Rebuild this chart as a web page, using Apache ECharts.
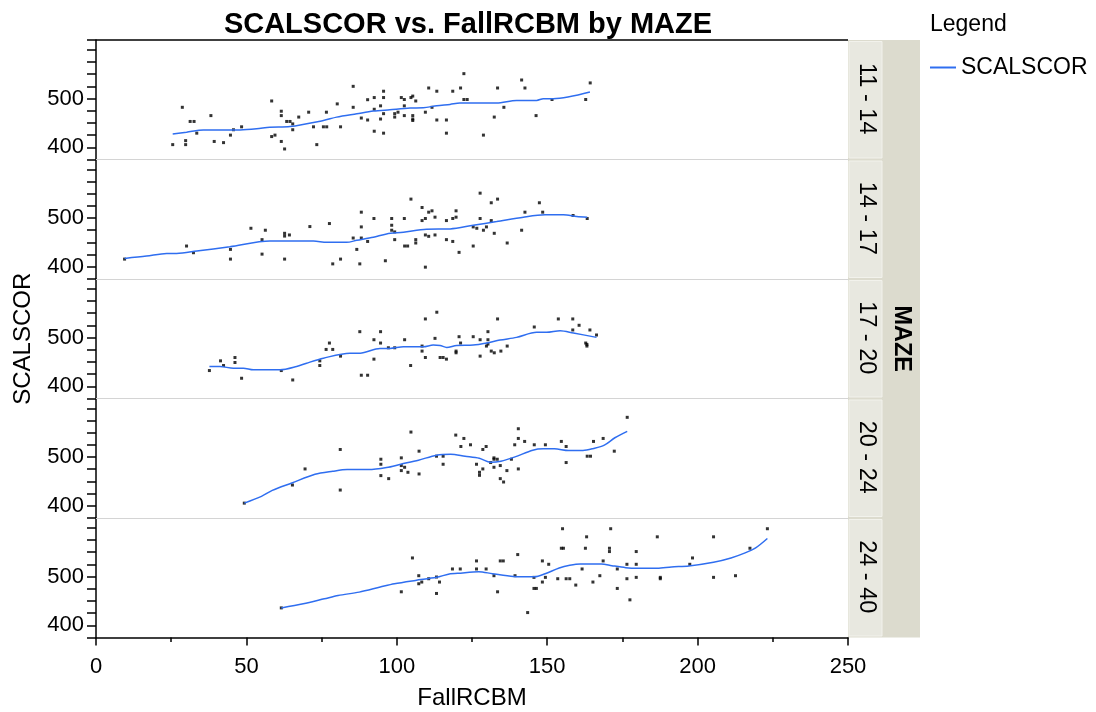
<!DOCTYPE html>
<html>
<head>
<meta charset="utf-8">
<title>SCALSCOR vs. FallRCBM by MAZE</title>
<script src="https://cdn.jsdelivr.net/npm/echarts@6/dist/echarts.min.js"></script>
<style>
  html, body { margin: 0; padding: 0; background: #fff; }
  #myChart { width: 1096px; height: 712px; }
</style>
</head>
<body>
<div id="myChart"></div>
<script>
// MAZE groups, one panel each (top to bottom)
var mazeGroups = ["11 - 14", "14 - 17", "17 - 20", "20 - 24", "24 - 40"];
var yLabels = [400, 500];

// raw points [FallRCBM, SCALSCOR]
var points1 = [[25.5,405.5],[28.7,482],[29.8,413.7],[29.8,405.5],[31.3,453],[32.6,453],[33.5,429],[38.2,465],[39.3,412],[42.4,409.6],[44.7,425],[45.7,436],[48.4,442],[58.4,495],[58.4,422],[59.5,425],[61.6,474],[61.6,465],[61.6,412],[62.7,396.6],[63.4,453],[64.5,453],[65.4,448],[65.4,436],[67.4,462],[70.7,472],[72.3,442],[73.4,405.5],[75.6,442],[76.7,442],[76.6,472],[80.2,489],[81.3,442],[85.5,525],[85.5,482],[88.2,460],[90.3,497.6],[90.3,456],[92.5,502],[92.5,478],[92.5,433],[94.6,485],[94.6,458],[95.6,515],[95.6,502],[95.6,469],[95.6,429],[99.3,469],[99.3,462],[100.4,472],[101.5,502],[102.5,498],[102.5,485],[102.5,465],[104.7,502],[105.3,505],[105.3,465],[105.3,458],[105.3,455],[106.3,495],[109.5,472],[110.6,521.6],[111.7,482],[113.3,515],[113.3,456],[116.5,456],[116.5,429],[118.6,515],[121.2,521.6],[122.3,551],[122.3,498],[123.4,498],[128.8,425],[132.4,462],[133.5,521.6],[135.6,482],[141.5,538],[142.6,521.6],[146.3,465],[151.6,498],[162.8,498],[164.3,532]];
var points2 = [[9.5,415.8],[30.1,442.6],[32.4,428.9],[44.7,435.7],[44.7,415.8],[51.5,479],[55.2,455.7],[55.2,426],[56.3,475],[62.7,468.7],[62.7,463],[62.7,415.8],[64.3,465.3],[71.1,482.5],[77.6,488.7],[78.7,406],[81.3,415.8],[85.5,459],[86.7,435.7],[87.7,406],[88.2,512],[88.2,481.8],[88.2,459],[90.3,452],[92.4,499],[96.2,412.4],[98.3,499],[98.3,485.2],[98.3,475],[99.3,471.5],[99.3,455.7],[102.5,499],[102.6,442.6],[103.6,442.6],[104.7,538.8],[106.3,455.7],[106.3,448.8],[108.4,521.6],[108.4,494.8],[109.5,499],[109.5,465.3],[109.5,399.3],[110.6,512],[110.6,462.5],[111.7,514.8],[112.7,501.8],[112.7,465.3],[116.5,494.8],[116.5,455.7],[118.6,499],[118.6,452],[119.7,514.8],[119.7,501.8],[120.7,429.6],[125.4,442.6],[125.4,481.8],[126.6,479],[127.7,551],[127.7,499],[128.8,475],[129.8,481.8],[131.4,531.3],[131.4,494.8],[132.4,468.7],[133.5,538.8],[136.7,448.8],[141.5,475],[142.6,512],[147.4,531.3],[148.5,512],[158.6,505.2],[163.3,499]];
var points3 = [[37.7,432.3],[41.4,452.2],[42.4,442.6],[46.2,459],[46.2,448.8],[48.4,416.5],[61.6,432.3],[65.4,413],[74.4,452.2],[74.4,442.6],[76.5,475.6],[78.7,475.6],[77.6,488.7],[81.3,461.9],[87.7,512],[88.2,422.7],[90.3,422.7],[92.4,495.5],[92.4,455.7],[94.6,512],[94.6,488.7],[97.2,479],[99.3,479],[102.6,495.5],[104.6,442.6],[108.4,482.5],[108.4,472.2],[109.5,538.1],[109.5,459.1],[112.7,498.3],[113.3,551.9],[114.4,459.1],[115.4,459.1],[116.5,455.7],[119.7,472.2],[119.7,468.7],[120.7,501.7],[121.2,488.7],[125.4,501.7],[127.7,495.5],[127.7,461.9],[129.8,482.5],[130.3,512],[130.3,495.5],[130.3,486.6],[131.4,472.2],[132.4,468.7],[133.5,538.1],[134.6,472.2],[136.7,482.5],[145.7,521.6],[153.7,538.1],[158.5,538.1],[158.5,515.5],[160.6,525.1],[162.8,488.7],[163.2,482.5],[163.2,485.9],[164.2,515.5],[166.4,505.2]];
var points4 = [[49.3,405.5],[65.3,442.6],[69.5,475.6],[81.2,515.5],[81.2,432.3],[94.7,495.5],[94.7,485.2],[94.7,461.9],[97.3,455.7],[101.5,498.3],[101.5,482.5],[102.6,479],[101.5,472.2],[103.7,468.7],[104.7,551.2],[107.4,512],[107.4,465.3],[113.2,501.7],[115.4,501.7],[115.4,485.2],[119.6,545],[121.3,521.6],[122.3,538.1],[124.5,525.1],[126.5,485.2],[127.5,468.7],[127.5,462.5],[128.6,515.5],[128.6,475.6],[129.7,521.6],[131.2,488.7],[132.3,498.3],[132.3,495.5],[132.3,479],[133.4,495.5],[134.4,482.5],[134.4,455.7],[135.5,448.8],[136.6,472.2],[138.1,495.5],[139.2,525.1],[140.4,558],[140.4,538.1],[140.4,475.6],[142.5,532],[145.7,525.1],[149.4,525.1],[154.7,532],[156.3,521.6],[156.3,488.7],[163.3,501.7],[164.4,501.7],[165.4,532],[168.6,538.1],[172.3,512],[176.6,581.4]];
var points5 = [[61.6,435.7],[101.5,468.7],[105.2,538.1],[107.3,501.7],[107.3,485.2],[108.3,488.7],[110.6,495.5],[113.2,499],[113.2,465.3],[114.2,488.7],[118.5,515.5],[121.1,515.5],[126.5,532],[126.5,515.5],[129.7,515.5],[132.3,501.7],[133.5,468.7],[134.4,532],[135.4,532],[139.3,501.7],[140.2,545],[143.5,426.1],[145.6,498.3],[145.6,475.6],[146.4,475.6],[148.4,532],[148.4,488.7],[149.4,498.3],[150.5,525.1],[153.5,495.5],[155.1,598],[154.7,558],[155.4,558],[156.3,495.5],[157.5,495.5],[159.5,482.5],[161.6,515.5],[163.1,581.4],[162.7,558],[165.2,488.7],[167.5,501.7],[168.6,532],[170.7,558],[170.7,551.2],[171.1,598],[173.3,515.5],[173.3,475.6],[176.5,525.1],[176.5,495.5],[177.5,452.2],[179.6,551.2],[179.6,525.1],[179.6,498.3],[186.6,581.4],[187.6,498.3],[187.6,495.5],[197.4,525.1],[198.3,538.1],[205.3,581.4],[205.3,498.3],[212.6,501.7],[217.4,558],[223.2,598]];

// smoother curve per panel (SCALSCOR)
var fit1 = [[25.5,427.5],[30.1,431],[35.7,435.7],[47.9,435.7],[53.4,437.8],[57.8,441.2],[64.5,442.6],[75.6,455],[80,461.9],[86.7,468.7],[92.2,474.2],[97.7,477],[104.4,480.4],[108.8,481],[113.3,485.2],[117.7,488],[121,490.7],[133.2,490.7],[139.8,496.2],[146.5,496.2],[148.7,499.7],[152,499.7],[164.2,513.4]];
var fit2 = [[9.5,417.2],[16.8,422],[23.5,427.5],[26.8,427.5],[33.5,432.3],[44.5,441.2],[57.8,452.9],[72.3,452.9],[76.7,450.2],[83.3,450.2],[86.7,454.3],[92.2,460.5],[96.6,467.4],[102.2,470.8],[109.9,477],[117.7,477.7],[125.4,485.2],[133.2,492.8],[142.1,501.8],[149.3,506.5],[155.4,506.5],[159.8,503],[163.3,501.7]];
var fit3 = [[37.7,440.5],[41.2,440.5],[45.7,437.1],[49,437.1],[52.3,433.7],[61.2,433.7],[66.7,440.5],[70,447.4],[75.6,457.7],[84.4,468],[87.8,468],[94.4,477.7],[97.7,477.7],[102.2,481.1],[108.8,481.1],[112.1,484.5],[114.4,483.8],[116.6,479.7],[119.9,483.8],[125.4,484.5],[129.9,488.7],[134.3,494.8],[139.8,500.3],[146.5,510.7],[149.8,510.7],[154.3,514.1],[158.7,509.3],[166.4,500.3]];
var fit4 = [[49.3,405.5],[55,419.2],[58.6,431.6],[65.1,446.7],[72.8,464.6],[78.7,470.8],[83.5,474.2],[90.6,474.2],[96.6,478.4],[101.3,485.2],[107.2,493.5],[113.2,503.8],[117.9,505.8],[122.7,501.7],[127.4,497.6],[131.2,489.3],[134.6,491.4],[139.3,500.3],[145.2,514.1],[148.8,516.8],[152.4,516.8],[157.1,513.4],[161.9,513.4],[165.4,517.5],[169,524.4],[172.5,539.5],[176.6,552.6]];
var fit5 = [[61.6,435.7],[68.9,444],[75.9,454.3],[80.5,461.2],[87.5,468],[94.5,478.4],[99.2,485.2],[106.2,492.1],[113.2,498.3],[117.8,505.8],[120.2,506.5],[127.2,510],[131.8,505.8],[138.8,500.3],[145.8,499.7],[149.3,505.8],[154,517.5],[157.5,523],[161,525.8],[168,525.8],[171.5,522.3],[176.1,518.2],[179.6,516.8],[186.6,516.8],[191.3,519.6],[197.1,521.6],[205.3,529.2],[211.1,538.1],[215.8,548.5],[219.3,558.8],[223.2,578]];

var allPoints = [points1, points2, points3, points4, points5];
var allFits = [fit1, fit2, fit3, fit4, fit5];

var FONT = "'Liberation Sans', Arial, sans-serif";
var plotLeft = 96, plotRight = 848, plotTop = 40, panelH = 119.5;

let myChart = echarts.init(document.getElementById("myChart"));

let grids = [], xAxes = [], yAxes = [], series = [], graphics = [];

// outer MAZE strip
graphics.push({
  type: "rect",
  shape: { x: 848, y: plotTop, width: 72, height: panelH * 5 },
  style: { fill: "#dcdbce" }
});
graphics.push({
  type: "text", x: 901, y: plotTop + panelH * 2.5, rotation: -Math.PI / 2,
  style: { text: "MAZE", font: "bold 23.5px " + FONT, fill: "#000", align: "center", verticalAlign: "middle" }
});
// dark top border of plot
graphics.push({
  type: "line",
  shape: { x1: plotLeft, y1: plotTop, x2: plotRight, y2: plotTop },
  style: { stroke: "#000", lineWidth: 1.5 }
});

for (let i = 0; i < 5; i++) {
  let top = plotTop + i * panelH;
  let last = i === 4;
  grids.push({ left: plotLeft, top: top, width: plotRight - plotLeft, height: panelH });

  xAxes.push({
    gridIndex: i, type: "value", min: 0, max: 250, interval: 50,
    axisLine: { show: true, onZero: false, lineStyle: { color: last ? "#000" : "#d4d4d4", width: last ? 1.5 : 1 } },
    axisTick: { show: last, length: 8, lineStyle: { color: "#000", width: 1.5 } },
    minorTick: { show: last, splitNumber: 2, length: 4.5, lineStyle: { color: "#000", width: 1.5 } },
    axisLabel: { show: last, fontSize: 22, fontFamily: FONT, color: "#000", margin: 18 },
    splitLine: { show: false },
    name: last ? "FallRCBM" : "",
    nameLocation: "middle", nameGap: 49,
    nameTextStyle: { fontSize: 24, fontFamily: FONT, color: "#000" }
  });

  yAxes.push({
    gridIndex: i, type: "value", min: 375, max: 620, interval: 25,
    axisLine: { show: true, onZero: false, lineStyle: { color: "#000", width: 1.5 } },
    axisTick: { show: true, length: 9, lineStyle: { color: "#000", width: 1.5 } },
    axisLabel: {
      fontSize: 22, fontFamily: FONT, color: "#000", margin: 12,
      formatter: function (v) { return yLabels.indexOf(v) >= 0 ? String(v) : ""; }
    },
    splitLine: { show: false },
    name: i === 2 ? "SCALSCOR" : "",
    nameLocation: "middle", nameGap: 61,
    nameTextStyle: { fontSize: 24, fontFamily: FONT, color: "#000" }
  });

  series.push({
    name: "points", type: "scatter", xAxisIndex: i, yAxisIndex: i,
    data: allPoints[i], symbol: "rect", symbolSize: 3,
    itemStyle: { color: "#000" }, silent: true
  });
  series.push({
    name: "SCALSCOR", type: "line", xAxisIndex: i, yAxisIndex: i,
    data: allFits[i], showSymbol: false, symbol: "none", smooth: 0.3,
    lineStyle: { color: "#2f6ef0", width: 1.5 }, itemStyle: { color: "#2f6ef0" }
  });

  // group strip for this panel
  graphics.push({
    type: "rect",
    shape: { x: 849, y: top + 1.5, width: 33, height: panelH - 3 },
    style: { fill: "#e8e8e0", stroke: "#f2f2ec", lineWidth: 1 }
  });
  graphics.push({
    type: "text", x: 866, y: top + panelH / 2 - 1, rotation: -Math.PI / 2,
    style: { text: mazeGroups[i], font: "23.5px " + FONT, fill: "#000", align: "center", verticalAlign: "middle" }
  });
}

myChart.setOption({
  animation: false,
  backgroundColor: "#fff",
  title: [
    {
      text: "SCALSCOR vs. FallRCBM by MAZE", left: 463, top: 5, textAlign: "center",
      textStyle: { fontSize: 29, fontWeight: "bold", fontFamily: FONT, color: "#000" }
    },
    {
      text: "Legend", left: 925, top: 8,
      textStyle: { fontSize: 23, fontWeight: "normal", fontFamily: FONT, color: "#000" }
    }
  ],
  legend: {
    left: 925, top: 51, itemWidth: 26, itemHeight: 2, itemGap: 6,
    data: [{ name: "SCALSCOR", icon: "rect" }],
    textStyle: { fontSize: 23, fontFamily: FONT, color: "#000" }
  },
  grid: grids,
  xAxis: xAxes,
  yAxis: yAxes,
  series: series,
  graphic: graphics
});
</script>
</body>
</html>
